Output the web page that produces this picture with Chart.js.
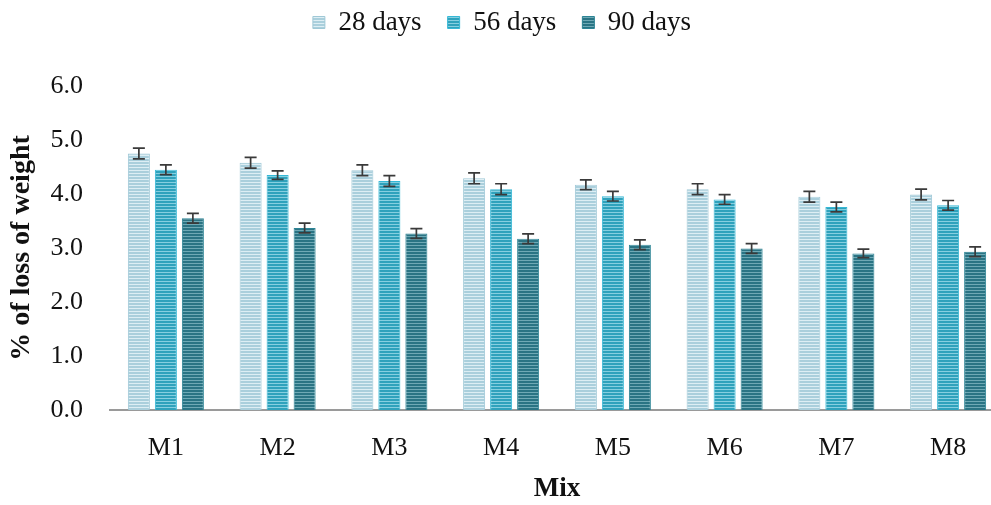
<!DOCTYPE html>
<html>
<head>
<meta charset="utf-8">
<script src="https://cdn.jsdelivr.net/npm/chart.js@4.4.1/dist/chart.umd.min.js"></script>
<style>
    body{ margin:0; background:#fff; overflow:hidden; }
    #wrap{ width:1004px; height:505px; }
</style>
</head>
<body>
<div id="wrap"><canvas id="loss_chart"></canvas></div>
<script>
// weight loss per mix at each curing age
const mixes = ["M1", "M2", "M3", "M4", "M5", "M6", "M7", "M8"];
const series_names = ["28 days", "56 days", "90 days"];
const loss_28 = [4.75, 4.58, 4.44, 4.29, 4.17, 4.09, 3.95, 3.99];
const loss_56 = [4.45, 4.35, 4.24, 4.09, 3.96, 3.90, 3.76, 3.79];
const loss_90 = [3.55, 3.37, 3.27, 3.17, 3.06, 2.99, 2.90, 2.93];
const err_28 = [0.10, 0.10, 0.10, 0.10, 0.09, 0.10, 0.10, 0.10];
const err_56 = [0.09, 0.08, 0.10, 0.10, 0.09, 0.09, 0.09, 0.09];
const err_90 = [0.09, 0.09, 0.09, 0.09, 0.09, 0.09, 0.08, 0.09];
const y_ticks = [0, 1, 2, 3, 4, 5, 6];

// horizontal stripes: two rows of base colour, one lighter row
function stripes(base, light){
    const c = document.createElement("canvas");
    c.width = 4;
    c.height = 3;
    const ctx = c.getContext("2d");
    ctx.fillStyle = base;
    ctx.fillRect(0, 0, 4, 3);
    ctx.fillStyle = light;
    ctx.fillRect(0, 2, 4, 1);
    return ctx.createPattern(c, "repeat");
}

const errorBars = {
    id: "errorBars",
    afterDatasetsDraw(chart){
        const ctx = chart.ctx;
        const y = chart.scales.y;
        ctx.save();
        ctx.strokeStyle = "#3a3a3a";
        ctx.lineWidth = 1.7;
        chart.data.datasets.forEach(function(ds, i){
            const meta = chart.getDatasetMeta(i);
            meta.data.forEach(function(bar, j){
                const v = ds.data[j];
                const e = ds.errors[j];
                const top = y.getPixelForValue(v + e);
                const bot = y.getPixelForValue(v - e);
                ctx.beginPath();
                ctx.moveTo(bar.x, top);
                ctx.lineTo(bar.x, bot);
                ctx.moveTo(bar.x - 6, top);
                ctx.lineTo(bar.x + 6, top);
                ctx.moveTo(bar.x - 6, bot);
                ctx.lineTo(bar.x + 6, bot);
                ctx.stroke();
            });
        });
        ctx.restore();
    }
};

// legend sits high with a fixed-height band under it
const legendBand = {
    id: "legendBand",
    beforeLayout(chart){
        const lg = chart.legend;
        if(!lg || lg._banded) return;
        const fit = lg.fit;
        lg.fit = function(){
            fit.call(this);
            this.height = 86;
        };
        lg._banded = true;
    },
    afterLayout(chart){
        if(chart.legend){
            chart.legend.top -= 17;
            chart.legend.bottom -= 17;
        }
    }
};

function makeSet(label, data, errors, base, light, edge){
    return {
        label: label,
        data: data,
        errors: errors,
        backgroundColor: stripes(base, light),
        borderColor: edge,
        borderWidth: 1,
        categoryPercentage: 0.725,
        barPercentage: 0.815
    };
}

const serif = "'Liberation Serif', 'Times New Roman', serif";

new Chart(document.getElementById("loss_chart"), {
    type: "bar",
    data: {
        labels: mixes,
        datasets: [
            makeSet(series_names[0], loss_28, err_28, "#aacfdc", "#ddeef4", "#9fc8d6"),
            makeSet(series_names[1], loss_56, err_56, "#2fa2bc", "#86cfe0", "#35b8d6"),
            makeSet(series_names[2], loss_90, err_90, "#2a7484", "#6fa9b5", "#2c8495")
        ]
    },
    options: {
        responsive: true,
        maintainAspectRatio: false,
        animation: false,
        layout: { padding: 0 },
        plugins: {
            legend: {
                position: "top",
                labels: {
                    boxWidth: 12,
                    boxHeight: 12,
                    padding: 26,
                    color: "#111",
                    font: { family: serif, size: 27 }
                }
            },
            tooltip: { enabled: false }
        },
        scales: {
            x: {
                grid: { display: false, drawTicks: false },
                border: { display: true, color: "#9a9a9a", width: 2 },
                ticks: {
                    color: "#111",
                    padding: 23,
                    font: { family: serif, size: 26 }
                },
                title: {
                    display: true,
                    text: "Mix",
                    color: "#111",
                    padding: { top: 0, bottom: 0 },
                    font: { family: serif, size: 27, weight: "bold" }
                },
                afterFit: function(scale){ scale.height = 95; }
            },
            y: {
                min: y_ticks[0],
                max: y_ticks[y_ticks.length - 1],
                grid: { display: false, drawTicks: false },
                border: { display: false },
                afterBuildTicks: function(scale){
                    scale.ticks = y_ticks.map(function(v){ return { value: v }; });
                },
                ticks: {
                    color: "#111",
                    padding: 27,
                    font: { family: serif, size: 26 },
                    callback: function(v){ return Number(v).toFixed(1); }
                },
                title: {
                    display: true,
                    text: "% of loss of weight",
                    color: "#111",
                    padding: { top: 5, bottom: 0 },
                    font: { family: serif, size: 28, weight: "bold" }
                },
                afterFit: function(scale){ scale.width = 110; }
            }
        }
    },
    plugins: [errorBars, legendBand]
});
</script>
</body>
</html>
